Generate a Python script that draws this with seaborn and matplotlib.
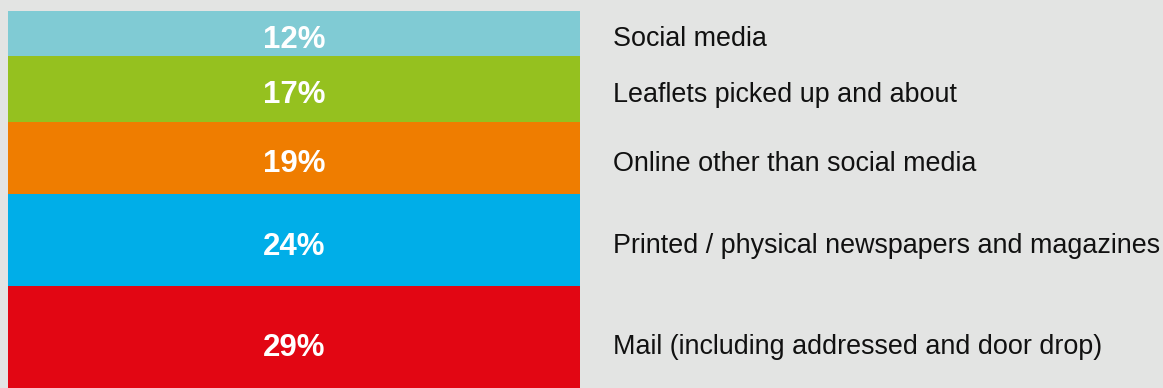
import numpy as np
import matplotlib
matplotlib.use("Agg")
import matplotlib.pyplot as plt
import matplotlib.transforms as mtransforms
import seaborn as sns

# Share of respondents by channel, listed top to bottom of the stacked column
categories = [
    "Social media",
    "Leaflets picked up and about",
    "Online other than social media",
    "Printed / physical newspapers and magazines",
    "Mail (including addressed and door drop)",
]
values = [12, 17, 19, 24, 29]
colors = ["#80cbd4", "#95c11f", "#ef7d00", "#00aee8", "#e20613"]

BG = "#e3e4e3"
W, H = 1163, 388

sns.set_theme(style="white")
plt.rcParams["font.family"] = ["Liberation Sans", "DejaVu Sans"]

fig = plt.figure(figsize=(W / 100, H / 100), dpi=100, facecolor=BG)
ax = fig.add_axes([0, 0, 1, 1])
ax.set_facecolor(BG)

cum = np.cumsum(values)
starts = cum - np.array(values)

# Stacked column: draw the cumulative totals from largest to smallest so each
# shorter bar overlays the longer one beneath it.
for i in range(len(values) - 1, -1, -1):
    sns.barplot(x=["all"], y=[cum[i]], color=colors[i], saturation=1,
                width=1.0, ax=ax, linewidth=0)

# Column spans pixels 8..580 horizontally; one percentage point ~3.83 px tall
px_per_unit = 3.83
top_px = 10.5
ax.set_ylim((H - top_px) / px_per_unit, -top_px / px_per_unit)
left_px, right_px = 8, 580
bar_w_px = right_px - left_px
ax.set_xlim(-0.5 - left_px / bar_w_px, -0.5 + (W - left_px) / bar_w_px)
ax.axis("off")

label_tf = mtransforms.blended_transform_factory(fig.transFigure, ax.transData)
for cat, v, s in zip(categories, values, starts):
    yc = s + v / 2
    ax.annotate(f"{v}%", xy=(0, yc), xytext=(0, -4.5), textcoords="offset points",
                ha="center", va="center", color="white", fontsize=22.5,
                fontweight="bold")
    ax.annotate(cat, xy=(613 / W, yc), xycoords=label_tf, xytext=(0, -4),
                textcoords="offset points", ha="left", va="center",
                color="#111111", fontsize=19.35)

fig.savefig("out.png", dpi=100, facecolor=BG)
